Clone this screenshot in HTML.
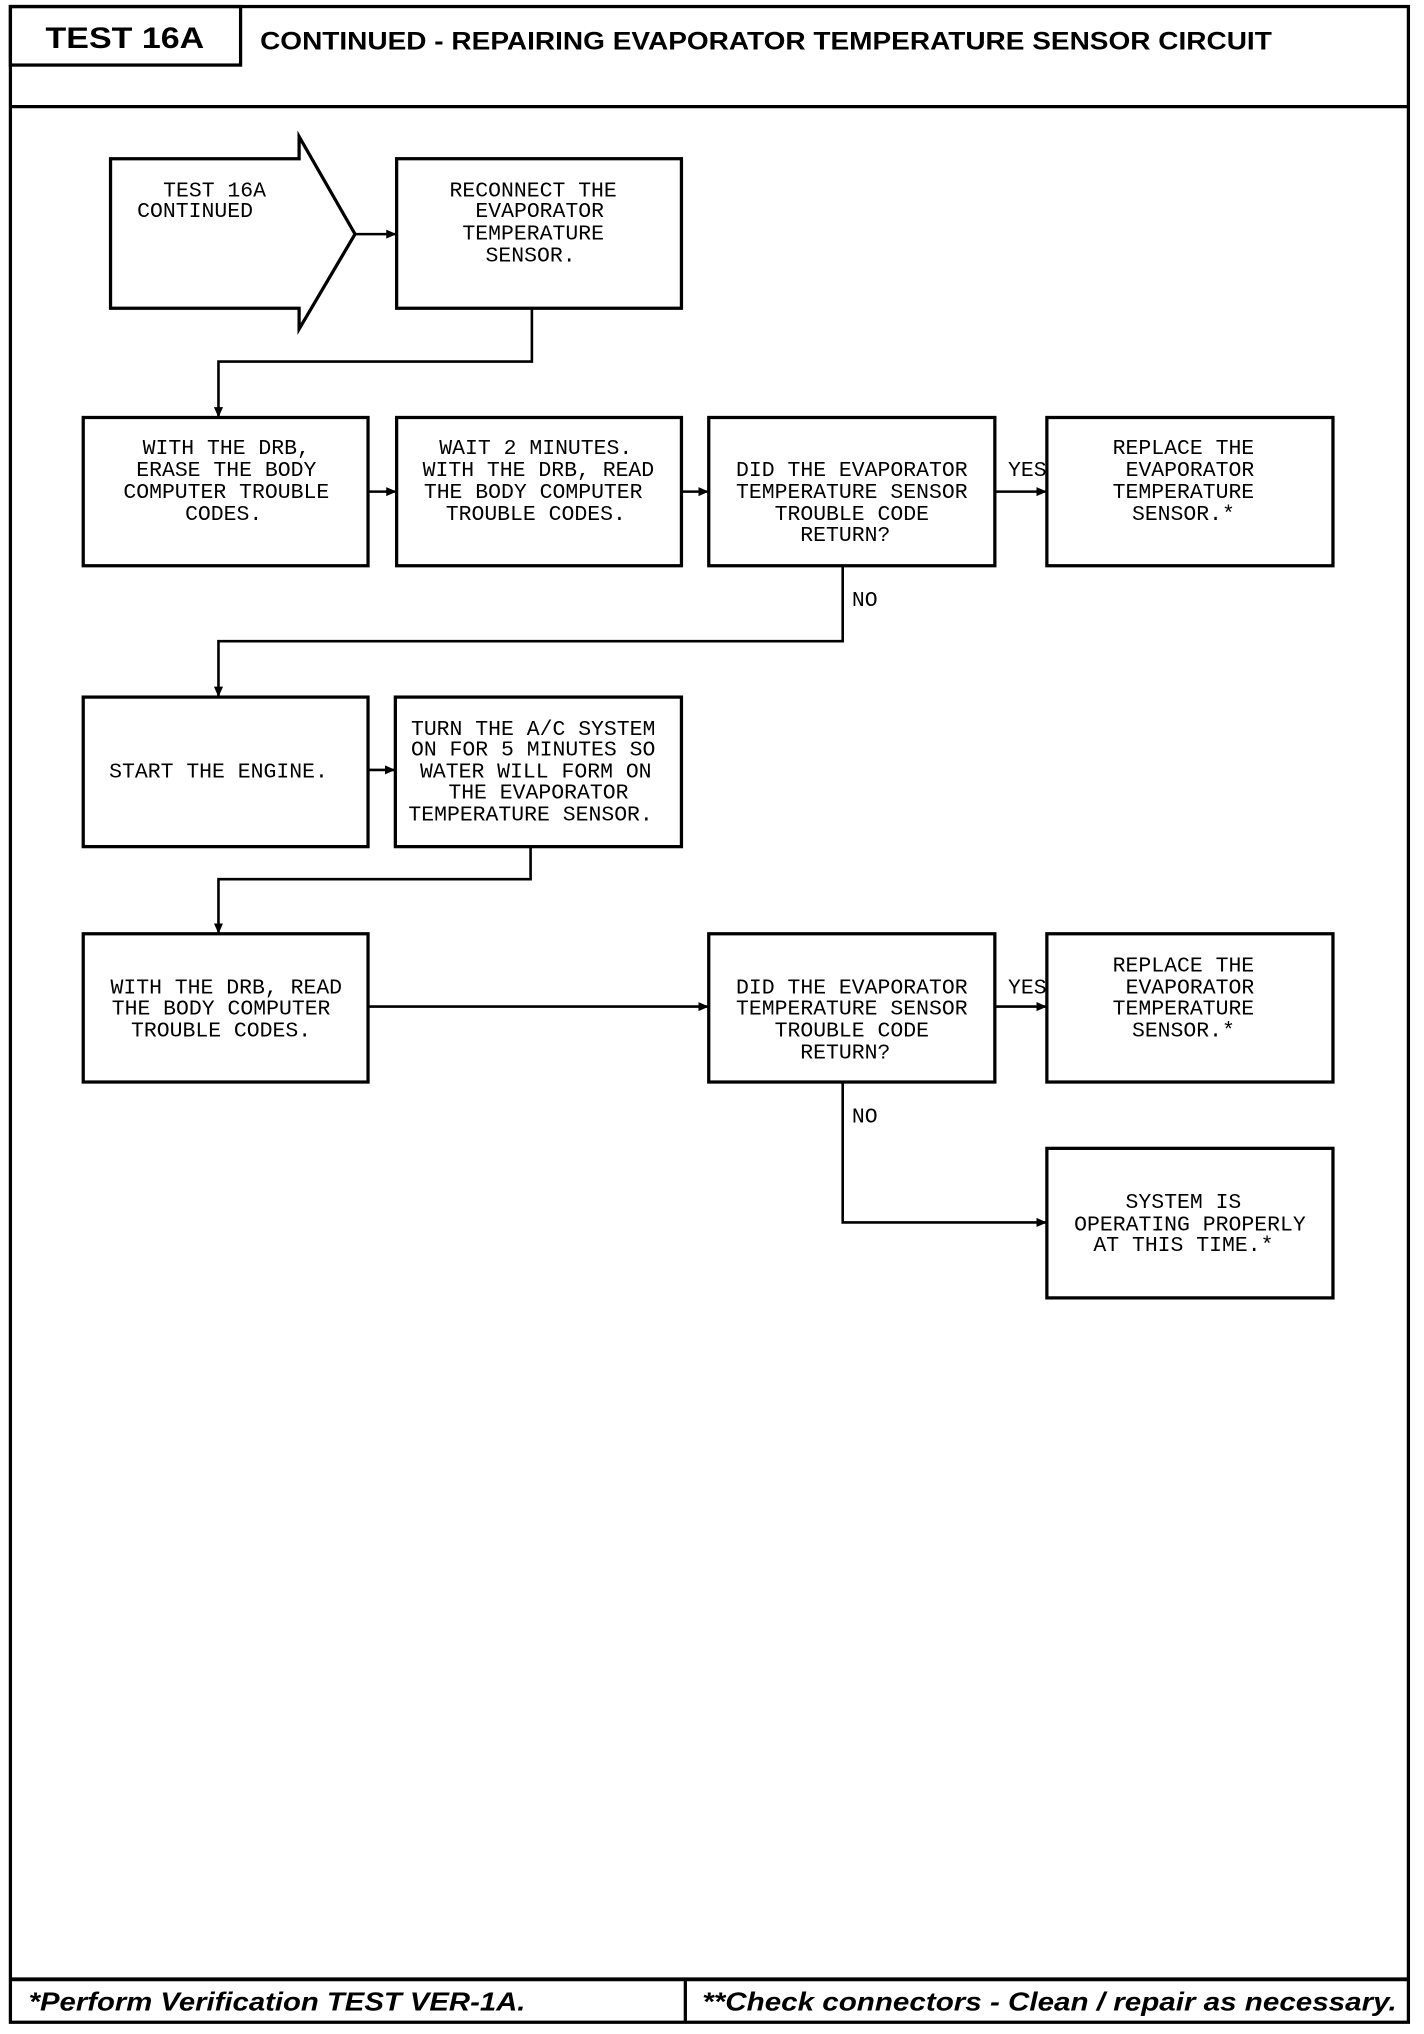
<!DOCTYPE html>
<html><head><meta charset="utf-8"><style>
html,body{margin:0;padding:0;background:#fff}
svg{display:block}
.t{font-family:"Liberation Mono",monospace;font-size:16.5px;text-anchor:middle;fill:#000}
.h{font-family:"Liberation Sans",sans-serif;font-weight:bold;fill:#000}
</style></head><body>
<svg width="1424" height="2034" viewBox="0 0 1095 1564" xmlns="http://www.w3.org/2000/svg">
<defs><marker id="a" markerWidth="8" markerHeight="8" refX="7" refY="4" orient="auto" markerUnits="userSpaceOnUse"><path d="M0,0.5 L8,4 L0,7.5z" fill="#000"/></marker></defs>
<g fill="none" stroke="#000" stroke-width="2.5">
<rect x="8" y="5" width="1075" height="1550"/>
<rect x="8" y="5" width="177" height="45"/>
<line x1="8" y1="82" x2="1083" y2="82"/>
<line x1="8" y1="1522" x2="1083" y2="1522" stroke-width="3"/>
<line x1="527" y1="1522" x2="527" y2="1555"/>
<polygon points="85,122 230,122 230,105 273,180 230,253 230,237 85,237"/>
<rect x="305" y="122" width="219" height="115"/>
<rect x="64" y="321" width="219" height="114"/>
<rect x="305" y="321" width="219" height="114"/>
<rect x="545" y="321" width="220" height="114"/>
<rect x="805" y="321" width="220" height="114"/>
<rect x="64" y="536" width="219" height="115"/>
<rect x="304" y="536" width="220" height="115"/>
<rect x="64" y="718" width="219" height="114"/>
<rect x="545" y="718" width="220" height="114"/>
<rect x="805" y="718" width="220" height="114"/>
<rect x="805" y="883" width="220" height="115"/>
<g stroke-width="2">
<line x1="273" y1="180" x2="304" y2="180" marker-end="url(#a)"/>
<polyline points="409,237 409,278 168,278 168,320" marker-end="url(#a)"/>
<line x1="283" y1="378" x2="304" y2="378" marker-end="url(#a)"/>
<line x1="524" y1="378" x2="544" y2="378" marker-end="url(#a)"/>
<line x1="765" y1="378" x2="804" y2="378" marker-end="url(#a)"/>
<polyline points="648,435 648,493 168,493 168,535" marker-end="url(#a)"/>
<line x1="283" y1="592" x2="303" y2="592" marker-end="url(#a)"/>
<polyline points="408,651 408,676 168,676 168,717" marker-end="url(#a)"/>
<line x1="283" y1="774" x2="544" y2="774" marker-end="url(#a)"/>
<line x1="765" y1="774" x2="804" y2="774" marker-end="url(#a)"/>
<polyline points="648,832 648,940 804,940" marker-end="url(#a)"/>
</g></g>
<text class="h" x="96" y="37" font-size="23" text-anchor="middle" textLength="122" lengthAdjust="spacingAndGlyphs">TEST 16A</text>
<text class="h" x="200" y="38" font-size="19" textLength="778" lengthAdjust="spacingAndGlyphs">CONTINUED - REPAIRING EVAPORATOR TEMPERATURE SENSOR CIRCUIT</text>
<text class="h" x="22" y="1546" font-size="20" font-style="italic" textLength="382" lengthAdjust="spacingAndGlyphs">*Perform Verification TEST VER-1A.</text>
<text class="h" x="540" y="1546" font-size="20" font-style="italic" textLength="534" lengthAdjust="spacingAndGlyphs">**Check connectors - Clean / repair as necessary.</text>
<g class="t">
<text x="165" y="151">TEST 16A</text><text x="150" y="167">CONTINUED</text>
<text x="410" y="151">RECONNECT THE</text><text x="415" y="167">EVAPORATOR</text><text x="410" y="184">TEMPERATURE</text><text x="408" y="201">SENSOR.</text>
<text x="174" y="349">WITH THE DRB,</text><text x="174" y="366">ERASE THE BODY</text><text x="174" y="383">COMPUTER TROUBLE</text><text x="172" y="400">CODES.</text>
<text x="412" y="349">WAIT 2 MINUTES.</text><text x="414" y="366">WITH THE DRB, READ</text><text x="410" y="383">THE BODY COMPUTER</text><text x="412" y="400">TROUBLE CODES.</text>
<text x="655" y="366">DID THE EVAPORATOR</text><text x="655" y="383">TEMPERATURE SENSOR</text><text x="655" y="400">TROUBLE CODE</text><text x="650" y="416">RETURN?</text>
<text x="910" y="349">REPLACE THE</text><text x="915" y="366">EVAPORATOR</text><text x="910" y="383">TEMPERATURE</text><text x="910" y="400">SENSOR.*</text>
<text x="790" y="366">YES</text><text x="665" y="466">NO</text>
<text x="168" y="598">START THE ENGINE.</text>
<text x="410" y="565">TURN THE A/C SYSTEM</text><text x="410" y="581">ON FOR 5 MINUTES SO</text><text x="412" y="598">WATER WILL FORM ON</text><text x="414" y="614">THE EVAPORATOR</text><text x="408" y="631">TEMPERATURE SENSOR.</text>
<text x="174" y="764">WITH THE DRB, READ</text><text x="170" y="780">THE BODY COMPUTER</text><text x="170" y="797">TROUBLE CODES.</text>
<text x="655" y="764">DID THE EVAPORATOR</text><text x="655" y="780">TEMPERATURE SENSOR</text><text x="655" y="797">TROUBLE CODE</text><text x="650" y="814">RETURN?</text>
<text x="910" y="747">REPLACE THE</text><text x="915" y="764">EVAPORATOR</text><text x="910" y="780">TEMPERATURE</text><text x="910" y="797">SENSOR.*</text>
<text x="790" y="764">YES</text><text x="665" y="863">NO</text>
<text x="910" y="929">SYSTEM IS</text><text x="915" y="946">OPERATING PROPERLY</text><text x="910" y="962">AT THIS TIME.*</text>
</g>
</svg>
</body></html>
